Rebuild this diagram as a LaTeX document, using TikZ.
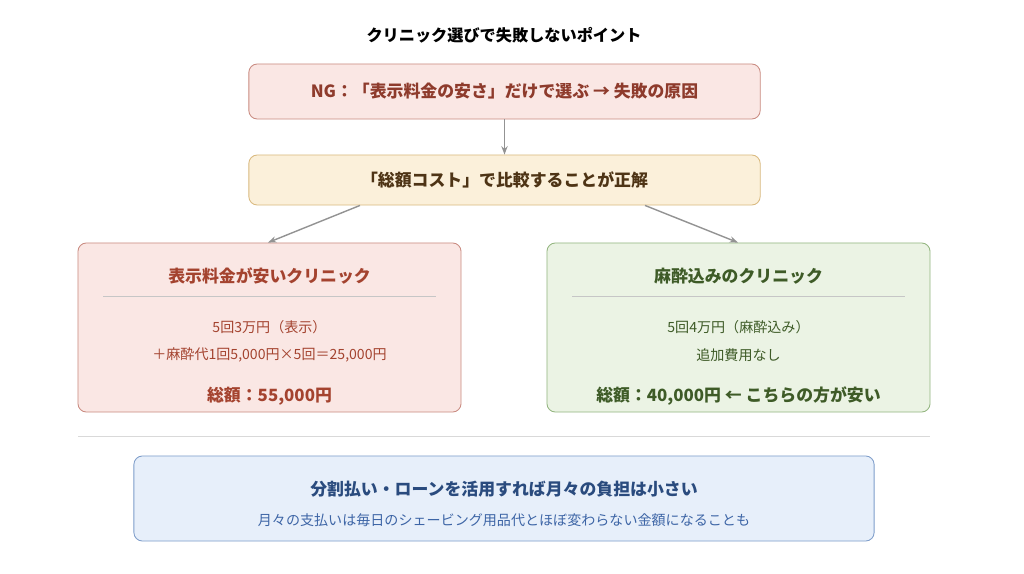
\documentclass[tikz,border=0pt]{standalone}
\usepackage{fontspec}
\setmainfont{Noto Sans CJK JP}
\usetikzlibrary{positioning}
\usetikzlibrary{arrows.meta}
\definecolor{ngfill}{HTML}{FAE7E4}
\definecolor{ngdraw}{HTML}{C98A80}
\definecolor{ngtext}{HTML}{8E3B2C}
\definecolor{okfill}{HTML}{FBF0DA}
\definecolor{okdraw}{HTML}{D9B97E}
\definecolor{oktext}{HTML}{4E3415}
\definecolor{redtext}{HTML}{A4432F}
\definecolor{grfill}{HTML}{EBF3E4}
\definecolor{grdraw}{HTML}{93B57F}
\definecolor{grtext}{HTML}{3E5B27}
\definecolor{blfill}{HTML}{E7EFFA}
\definecolor{bldraw}{HTML}{7E9DCA}
\definecolor{bltext}{HTML}{2A4B7E}
\definecolor{blsub}{HTML}{3D65A6}
\tikzstyle{box}=[draw, rounded corners=6pt, line width=0.6pt]
\tikzstyle{wide}=[box, minimum width=12.78cm, align=center, font=\fontsize{12}{14}\selectfont\bfseries]
\tikzstyle{card}=[box, minimum width=9.575cm, minimum height=4.225cm]
\tikzstyle{link}=[->, >={Stealth[length=6pt]}, draw=gray!85, line width=1pt]

\begin{document}
\begin{tikzpicture}[x=0.025cm, y=-0.025cm]
\useasboundingbox[fill=white] (0,0) rectangle (1024,573);
\node (title) at (504,35) [font=\fontsize{11.5}{13}\selectfont\bfseries] {クリニック選びで失敗しないポイント};
\node (ng) at (504.5,91.5) [wide, minimum height=1.375cm, fill=ngfill, draw=ngdraw, text=ngtext] {NG：「表示料金の安さ」だけで選ぶ → 失敗の原因};
\node (total) at (504.5,180) [wide, minimum height=1.25cm, fill=okfill, draw=okdraw, text=oktext] {「総額コスト」で比較することが正解};

\node (cheap) at (269.5,327.5) [card, fill=ngfill, draw=ngdraw] {};
\node (incl) at (738.5,327.5) [card, fill=grfill, draw=grdraw] {};

% left card
\node (cheaphead) at (269.5,276) [text=redtext, font=\fontsize{12}{14}\selectfont\bfseries] {表示料金が安いクリニック};
\draw [gray!45] (103,296) -- (436,296);
\node (cheapa) at (269.5,327) [text=redtext, font=\fontsize{10}{12}\selectfont] {5回3万円（表示）};
\node (cheapb) at (269.5,355) [text=redtext, font=\fontsize{10}{12}\selectfont] {＋麻酔代1回5,000円×5回＝25,000円};
\node (cheapsum) at (269.5,396) [text=redtext, font=\fontsize{12}{14}\selectfont\bfseries] {総額：55,000円};

% right card
\node (inclhead) at (738.5,276) [text=grtext, font=\fontsize{12}{14}\selectfont\bfseries] {麻酔込みのクリニック};
\draw [gray!45] (572,296) -- (905,296);
\node (incla) at (738.5,327) [text=grtext, font=\fontsize{10}{12}\selectfont] {5回4万円（麻酔込み）};
\node (inclb) at (738.5,355) [text=grtext, font=\fontsize{10}{12}\selectfont] {追加費用なし};
\node (inclsum) at (738.5,396) [text=grtext, font=\fontsize{12}{14}\selectfont\bfseries] {総額：40,000円 ← こちらの方が安い};

\draw [gray!30] (78,436) -- (930,436);

\node (loan) at (504,498.5) [box, minimum width=18.5cm, minimum height=2.125cm, fill=blfill, draw=bldraw] {};
\node (loanhead) at (504,489) [text=bltext, font=\fontsize{12}{14}\selectfont\bfseries] {分割払い・ローンを活用すれば月々の負担は小さい};
\node (loansub) at (504,520) [text=blsub, font=\fontsize{10}{12}\selectfont] {月々の支払いは毎日のシェービング用品代とほぼ変わらない金額になることも};

\draw [link] (ng.south) -- (total.north);
\draw [link] (total.south -| 360,0) -- (cheap.north -| 268,0);
\draw [link] (total.south -| 645,0) -- (incl.north -| 738,0);
\end{tikzpicture}
\end{document}
